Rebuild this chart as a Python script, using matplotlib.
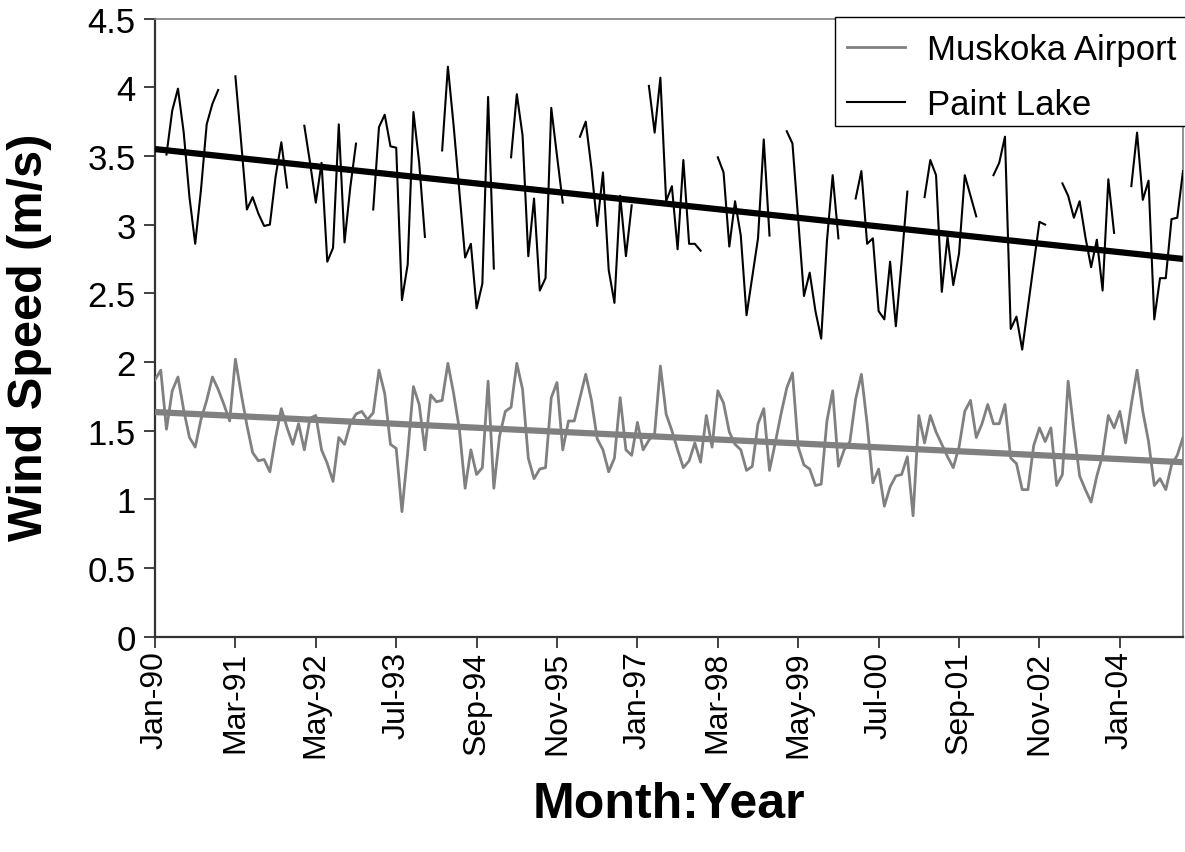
import numpy as np
import pandas as pd
import matplotlib
matplotlib.use("Agg")
import matplotlib.pyplot as plt
from matplotlib.patches import Rectangle

plt.rcParams['font.family'] = ['Liberation Sans', 'DejaVu Sans']

nan = np.nan

# Monthly mean wind speed (m/s), Jan-1990 .. Dec-2004, one row per year
muskoka_airport = [
    1.87, 1.94, 1.51, 1.79, 1.89, 1.65, 1.45, 1.38, 1.58, 1.72, 1.89, 1.80,
    1.69, 1.57, 2.02, 1.77, 1.54, 1.34, 1.28, 1.29, 1.20, 1.45, 1.66, 1.52,
    1.40, 1.55, 1.36, 1.59, 1.61, 1.36, 1.26, 1.13, 1.45, 1.40, 1.55, 1.62,
    1.64, 1.58, 1.63, 1.94, 1.77, 1.40, 1.37, 0.91, 1.34, 1.82, 1.69, 1.36,
    1.76, 1.71, 1.72, 1.99, 1.77, 1.51, 1.08, 1.36, 1.18, 1.23, 1.86, 1.08,
    1.46, 1.64, 1.67, 1.99, 1.80, 1.30, 1.15, 1.22, 1.23, 1.74, 1.85, 1.36,
    1.57, 1.57, 1.74, 1.91, 1.72, 1.44, 1.36, 1.20, 1.30, 1.74, 1.36, 1.32,
    1.56, 1.36, 1.43, 1.48, 1.97, 1.62, 1.50, 1.36, 1.23, 1.28, 1.41, 1.27,
    1.61, 1.38, 1.79, 1.70, 1.49, 1.40, 1.36, 1.21, 1.24, 1.55, 1.66, 1.21,
    1.41, 1.62, 1.81, 1.92, 1.38, 1.25, 1.22, 1.10, 1.11, 1.57, 1.79, 1.24,
    1.36, 1.42, 1.73, 1.91, 1.55, 1.12, 1.22, 0.95, 1.09, 1.17, 1.18, 1.31,
    0.88, 1.61, 1.41, 1.61, 1.49, 1.40, 1.31, 1.23, 1.38, 1.64, 1.72, 1.45,
    1.55, 1.69, 1.55, 1.55, 1.69, 1.30, 1.26, 1.07, 1.07, 1.39, 1.52, 1.42,
    1.52, 1.10, 1.18, 1.86, 1.50, 1.17, 1.07, 0.98, 1.17, 1.32, 1.61, 1.52,
    1.64, 1.41, 1.69, 1.94, 1.64, 1.42, 1.10, 1.15, 1.07, 1.25, 1.32, 1.45,
]

# Paint Lake has no Jan/Feb records
paint_lake = [
    nan, nan, 3.51, 3.83, 3.99, 3.67, 3.20, 2.86, 3.25, 3.73, 3.88, 3.98,
    nan, nan, 4.08, 3.60, 3.11, 3.20, 3.08, 2.99, 3.00, 3.35, 3.60, 3.27,
    nan, nan, 3.72, 3.45, 3.16, 3.45, 2.73, 2.83, 3.73, 2.87, 3.27, 3.59,
    nan, nan, 3.11, 3.71, 3.80, 3.57, 3.56, 2.45, 2.71, 3.82, 3.45, 2.91,
    nan, nan, 3.54, 4.15, 3.72, 3.24, 2.76, 2.86, 2.39, 2.57, 3.93, 2.68,
    nan, nan, 3.49, 3.95, 3.65, 2.77, 3.19, 2.52, 2.61, 3.85, 3.50, 3.16,
    nan, nan, 3.64, 3.75, 3.41, 2.99, 3.38, 2.67, 2.43, 3.21, 2.77, 3.14,
    nan, nan, 4.01, 3.67, 4.07, 3.17, 3.28, 2.82, 3.47, 2.86, 2.86, 2.81,
    nan, nan, 3.49, 3.38, 2.84, 3.17, 2.92, 2.34, 2.62, 2.90, 3.62, 2.92,
    nan, nan, 3.68, 3.59, 3.03, 2.48, 2.65, 2.37, 2.17, 2.88, 3.36, 2.90,
    nan, nan, 3.19, 3.39, 2.86, 2.90, 2.37, 2.31, 2.73, 2.26, 2.73, 3.24,
    nan, nan, 3.20, 3.47, 3.36, 2.51, 2.91, 2.56, 2.79, 3.36, 3.21, 3.06,
    nan, nan, 3.36, 3.45, 3.64, 2.24, 2.33, 2.09, 2.40, 2.71, 3.02, 3.00,
    nan, nan, 3.30, 3.21, 3.05, 3.17, 2.91, 2.69, 2.89, 2.52, 3.33, 2.94,
    nan, nan, 3.28, 3.67, 3.18, 3.32, 2.31, 2.61, 2.61, 3.04, 3.05, 3.39,
]

# Linear trend lines: value at first and last month
muskoka_trend = [1.635, 1.27]
paint_trend = [3.55, 2.75]

months = pd.date_range("1990-01-01", periods=180, freq="MS").strftime("%b-%y").tolist()
tick_labels = ["Jan-90", "Mar-91", "May-92", "Jul-93", "Sep-94", "Nov-95", "Jan-97",
               "Mar-98", "May-99", "Jul-00", "Sep-01", "Nov-02", "Jan-04"]
y_ticks = [0, 0.5, 1, 1.5, 2, 2.5, 3, 3.5, 4, 4.5]

GREY = "#808080"
x = np.arange(len(months))
musk = np.array(muskoka_airport, dtype=float)
paint = np.array(paint_lake, dtype=float)
x_ends = [x[0], x[-1]]

fig = plt.figure(figsize=(11.85, 8.53), dpi=100)
ax = fig.add_axes([155 / 1185, 1 - 637.6 / 853, 1028 / 1185, 618 / 853])

h_musk, = ax.plot(x, musk, color=GREY, lw=2.0, zorder=3)
h_paint, = ax.plot(x, paint, color="black", lw=1.5, zorder=3)
ax.plot(x_ends, muskoka_trend, color=GREY, lw=4.5, solid_capstyle="butt", zorder=4)
ax.plot(x_ends, paint_trend, color="black", lw=4.5, solid_capstyle="butt", zorder=4)

ax.set_xlim(0, len(months) - 1)
ax.set_ylim(0, 4.5)
ax.set_yticks(y_ticks)
ax.set_yticklabels([f"{v:g}" for v in y_ticks])
ax.set_xticks([months.index(t) for t in tick_labels])
ax.set_xticklabels(tick_labels, rotation=90)

for side in ("top", "right"):
    ax.spines[side].set_color(GREY)
    ax.spines[side].set_linewidth(1.2)
for side in ("left", "bottom"):
    ax.spines[side].set_color("#333333")
    ax.spines[side].set_linewidth(1.6)

ax.tick_params(axis="both", direction="out", length=8, width=1.3, color="#333333")
ax.tick_params(axis="y", labelsize=25, pad=6)
ax.tick_params(axis="x", labelsize=23, pad=2)

ax.set_ylabel("Wind Speed (m/s)", fontsize=35, fontweight="bold", va="center")
ax.yaxis.set_label_coords(-0.1216, 0.486)
ax.set_xlabel("Month:Year", fontsize=36, fontweight="bold", va="center")
ax.xaxis.set_label_coords(0.5, -0.271)

# Legend box running off the right edge of the canvas
fig.patches.append(Rectangle((835 / 1185, 1 - 127 / 853), 360 / 1185, 109 / 853,
                             transform=fig.transFigure, facecolor="white",
                             edgecolor="black", lw=1.0, zorder=5))
leg = fig.legend([h_musk, h_paint], ["Muskoka Airport", "Paint Lake"],
                 loc="upper left", bbox_to_anchor=(847 / 1185, 1 - 34.5 / 853),
                 fontsize=25, frameon=False, handlelength=1.67,
                 handletextpad=0.63, borderpad=0, labelspacing=0.62,
                 borderaxespad=0)
leg.set_zorder(6)

fig.savefig("out.png", dpi=100)
